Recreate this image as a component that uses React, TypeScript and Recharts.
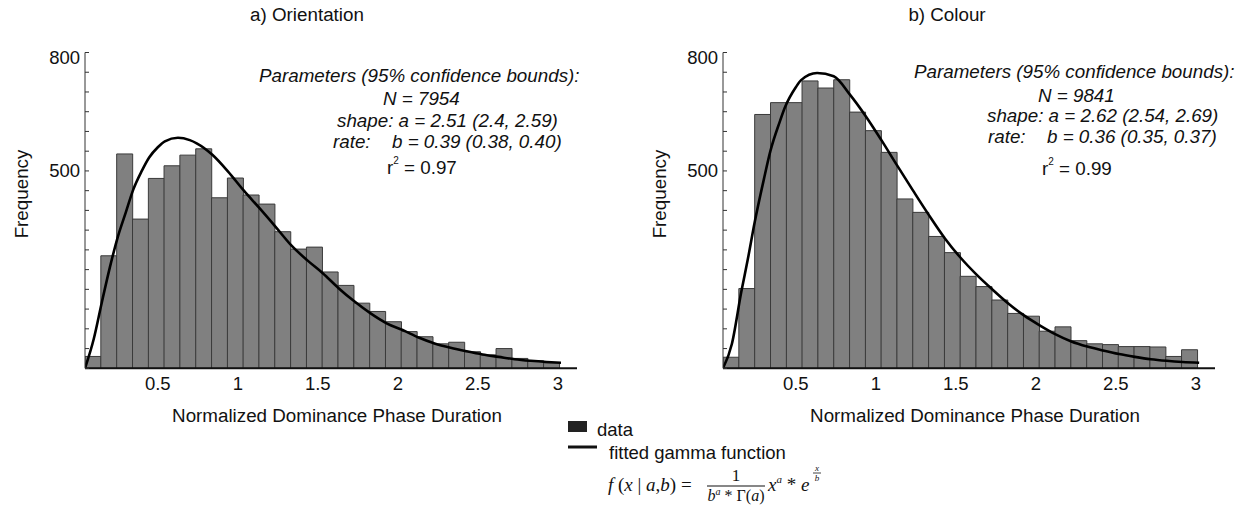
import { ComposedChart, XAxis, YAxis, Bar, Line } from "recharts";

// bin centres of the 30 histogram bins (normalized duration)
const BIN_CENTERS = [
  0.094, 0.193, 0.292, 0.391, 0.49, 0.588, 0.687, 0.786, 0.885, 0.984,
  1.082, 1.181, 1.28, 1.379, 1.478, 1.576, 1.675, 1.774, 1.873, 1.972,
  2.07, 2.169, 2.268, 2.367, 2.466, 2.564, 2.663, 2.762, 2.861, 2.96,
];

const ORIENTATION_COUNTS = [
  30, 285, 543, 378, 481, 513, 540, 556, 432, 482,
  439, 416, 346, 302, 307, 244, 210, 165, 144, 118,
  93, 80, 62, 66, 42, 34, 50, 25, 19, 14,
];

const COLOUR_COUNTS = [
  28, 202, 643, 673, 673, 728, 710, 731, 649, 602,
  547, 429, 395, 334, 293, 233, 207, 173, 139, 132,
  94, 105, 70, 62, 60, 55, 55, 54, 30, 47,
];

// fitted gamma curves
const ORIENTATION_FIT_X = [
  0.045, 0.1, 0.149, 0.2, 0.248, 0.3, 0.346, 0.4, 0.446, 0.5, 0.544, 0.626,
  0.7, 0.743, 0.841, 0.938, 1.038, 1.137, 1.235, 1.333, 1.433, 1.531, 1.63,
  1.73, 1.83, 1.93, 2.03, 2.13, 2.23, 2.33, 2.43, 2.53, 2.63, 2.73, 2.83,
  2.93, 3.02,
];
const ORIENTATION_FIT_Y = [
  0, 75, 165, 255, 330, 395, 452, 500, 534, 560, 575, 584,
  578, 570, 541, 499, 450, 405, 359, 312, 274, 241, 203,
  169, 139, 114, 97, 78, 63, 52, 43, 35, 29, 23, 19,
  16, 14,
];

const COLOUR_FIT_X = [
  0.045, 0.1, 0.16, 0.2, 0.243, 0.3, 0.341, 0.4, 0.431, 0.5, 0.533, 0.633,
  0.737, 0.837, 0.935, 1.035, 1.133, 1.233, 1.332, 1.432, 1.53, 1.628,
  1.728, 1.826, 1.926, 2.024, 2.124, 2.222, 2.322, 2.42, 2.52, 2.619,
  2.719, 2.817, 2.917, 3.021,
];
const COLOUR_FIT_Y = [
  0, 61, 195, 276, 370, 478, 550, 625, 660, 712, 730, 748,
  740, 694, 640, 578, 514, 450, 388, 329, 280, 238,
  200, 165, 134, 109, 86, 68, 55, 45, 36, 29,
  23, 19, 16, 14,
];

const X_TICKS = [0.5, 1, 1.5, 2, 2.5, 3];
const Y_TICKS = [
  0, 50, 100, 150, 200, 250, 300, 350, 400, 450, 500, 550, 600, 650, 700, 750, 800,
];
const Y_LABELED = [500, 800];

const FONT = '"Liberation Sans", Arial, sans-serif';
const TEXT = "#111";

const YTick = (props: any) => {
  const { x, y, payload } = props;
  const v = payload.value;
  return (
    <g>
      <line x1={x} x2={x + 4} y1={y} y2={y} stroke="#333" strokeWidth={1} />
      {Y_LABELED.includes(v) && (
        <text
          x={x - 5}
          y={v === 800 ? y + 5 : y}
          textAnchor="end"
          dominantBaseline="central"
          fontSize={18.5}
          fontFamily={FONT}
          fill={TEXT}
        >
          {v}
        </text>
      )}
    </g>
  );
};

const XTick = (props: any) => {
  const { x, y, payload } = props;
  return (
    <text
      x={x}
      y={y}
      textAnchor="middle"
      dominantBaseline="central"
      fontSize={18.5}
      fontFamily={FONT}
      fill={TEXT}
    >
      {payload.value}
    </text>
  );
};

type PanelProps = {
  left: number;
  counts: number[];
  fitX: number[];
  fitY: number[];
};

function HistogramPanel({ left, counts, fitX, fitY }: PanelProps) {
  const bins = BIN_CENTERS.map((x, i) => ({ x, count: counts[i] }));
  const fit = fitX.map((x, i) => ({ x, fit: fitY[i] }));
  return (
    <div style={{ position: "absolute", left, top: 0 }}>
      <ComposedChart
        width={620}
        height={400}
        data={bins}
        margin={{ top: 52.5, right: 43, bottom: 1.7, left: 25 }}
        barCategoryGap={0}
        barGap={0}
      >
        <XAxis
          xAxisId="bins"
          dataKey="x"
          type="number"
          domain={[0.045, 3.12]}
          allowDataOverflow
          ticks={X_TICKS}
          height={30}
          tickSize={0}
          tickMargin={15}
          tickLine={false}
          tick={<XTick />}
          axisLine={{ stroke: "#111", strokeWidth: 2 }}
        />
        <XAxis
          xAxisId="fit"
          dataKey="x"
          type="number"
          domain={[0.045, 3.12]}
          allowDataOverflow
          hide
        />
        <YAxis
          type="number"
          domain={[0, 800]}
          ticks={Y_TICKS}
          interval={0}
          width={60}
          tickSize={0}
          tickMargin={0}
          tickLine={false}
          tick={<YTick />}
          axisLine={{ stroke: "#333", strokeWidth: 1 }}
        />
        <Bar
          xAxisId="bins"
          dataKey="count"
          fill="#808080"
          stroke="#3a3a3a"
          strokeWidth={1}
          isAnimationActive={false}
        />
        <Line
          xAxisId="fit"
          data={fit}
          dataKey="fit"
          type="monotone"
          stroke="#000"
          strokeWidth={2.6}
          dot={false}
          activeDot={false}
          isAnimationActive={false}
        />
      </ComposedChart>
    </div>
  );
}

function Annotation({
  x0,
  y0,
  n,
  shape,
  rate,
  r2,
  xs,
}: {
  x0: number;
  y0: number[];
  n: string;
  shape: string;
  rate: string;
  r2: string;
  xs: number[];
}) {
  const common = {
    fontSize: 18.8,
    fontFamily: FONT,
    fill: TEXT,
    dominantBaseline: "central" as const,
  };
  return (
    <g>
      <text x={x0} y={y0[0]} fontStyle="italic" {...common}>
        Parameters (95% confidence bounds):
      </text>
      <text x={xs[0]} y={y0[1]} fontStyle="italic" {...common}>
        {n}
      </text>
      <text x={xs[1]} y={y0[2]} fontStyle="italic" {...common}>
        {shape}
      </text>
      <text x={xs[2]} y={y0[3]} fontStyle="italic" {...common}>
        rate:
      </text>
      <text x={xs[3]} y={y0[3]} fontStyle="italic" {...common}>
        {rate}
      </text>
      <text x={xs[4]} y={y0[4]} {...common}>
        r
        <tspan fontSize={10} dy={-7}>
          2
        </tspan>
        <tspan dy={7}>{" = " + r2}</tspan>
      </text>
    </g>
  );
}

export default function App() {
  const label = {
    fontSize: 18.8,
    fontFamily: FONT,
    fill: TEXT,
    textAnchor: "middle" as const,
    dominantBaseline: "central" as const,
  };
  const serif = {
    fontFamily: '"Liberation Serif", "Times New Roman", serif',
    fill: TEXT,
  };
  return (
    <div
      style={{
        position: "relative",
        width: 1239,
        height: 508,
        background: "#fff",
        overflow: "hidden",
      }}
    >
      <style>{"body{margin:0}"}</style>
      <HistogramPanel
        left={0}
        counts={ORIENTATION_COUNTS}
        fitX={ORIENTATION_FIT_X}
        fitY={ORIENTATION_FIT_Y}
      />
      <HistogramPanel
        left={638}
        counts={COLOUR_COUNTS}
        fitX={COLOUR_FIT_X}
        fitY={COLOUR_FIT_Y}
      />
      <svg
        width={1239}
        height={508}
        style={{ position: "absolute", left: 0, top: 0, pointerEvents: "none" }}
      >
        {/* titles */}
        <text x={307} y={14} {...label}>a) Orientation</text>
        <text x={947} y={14} {...label}>b) Colour</text>

        {/* axis labels */}
        <text x={337} y={415} {...label}>Normalized Dominance Phase Duration</text>
        <text x={975} y={415} {...label}>Normalized Dominance Phase Duration</text>
        <text transform="translate(21,194) rotate(-90)" {...label}>Frequency</text>
        <text transform="translate(659,194) rotate(-90)" {...label}>Frequency</text>

        <Annotation
          x0={259}
          y0={[75, 98, 120, 141, 167]}
          xs={[383, 337, 333, 392, 387]}
          n="N = 7954"
          shape="shape: a = 2.51 (2.4, 2.59)"
          rate="b = 0.39 (0.38, 0.40)"
          r2="0.97"
        />
        <Annotation
          x0={914}
          y0={[71, 95, 115, 136, 168]}
          xs={[1038, 987, 988, 1047, 1042]}
          n="N = 9841"
          shape="shape: a = 2.62 (2.54, 2.69)"
          rate="b = 0.36 (0.35, 0.37)"
          r2="0.99"
        />

        {/* legend */}
        <rect x={568} y={421} width={19} height={11} fill="#222" />
        <text x={597} y={429} fontSize={18.5} fontFamily={FONT} fill={TEXT} dominantBaseline="central">
          data
        </text>
        <line x1={568} x2={597} y1={447} y2={447} stroke="#111" strokeWidth={3} />
        <text x={609} y={452} fontSize={18.5} fontFamily={FONT} fill={TEXT} dominantBaseline="central">
          fitted gamma function
        </text>

        {/* formula */}
        <text x={608} y={491} fontSize={19} {...serif}>
          <tspan fontStyle="italic">f</tspan>
          {" ("}
          <tspan fontStyle="italic">x</tspan>
          {" | "}
          <tspan fontStyle="italic">a</tspan>
          {","}
          <tspan fontStyle="italic">b</tspan>
          {") ="}
        </text>
        <text x={736} y={481} fontSize={17} textAnchor="middle" {...serif}>1</text>
        <line x1={707} x2={765} y1={486} y2={486} stroke="#111" strokeWidth={1.2} />
        <text x={736} y={501} fontSize={16} textAnchor="middle" {...serif}>
          <tspan fontStyle="italic">b</tspan>
          <tspan fontSize={10} dy={-6} fontStyle="italic">a</tspan>
          <tspan dy={6}>{" * Γ("}</tspan>
          <tspan fontStyle="italic">a</tspan>
          {")"}
        </text>
        <text x={768} y={491} fontSize={19} {...serif}>
          <tspan fontStyle="italic">x</tspan>
          <tspan fontSize={11} dy={-8} fontStyle="italic">a</tspan>
          <tspan dy={8}>{" * "}</tspan>
          <tspan fontStyle="italic">e</tspan>
        </text>
        <text x={817} y={471} fontSize={9} textAnchor="middle" fontStyle="italic" {...serif}>x</text>
        <line x1={813} x2={821} y1={473} y2={473} stroke="#111" strokeWidth={0.8} />
        <text x={817} y={481} fontSize={9} textAnchor="middle" fontStyle="italic" {...serif}>b</text>
      </svg>
    </div>
  );
}
